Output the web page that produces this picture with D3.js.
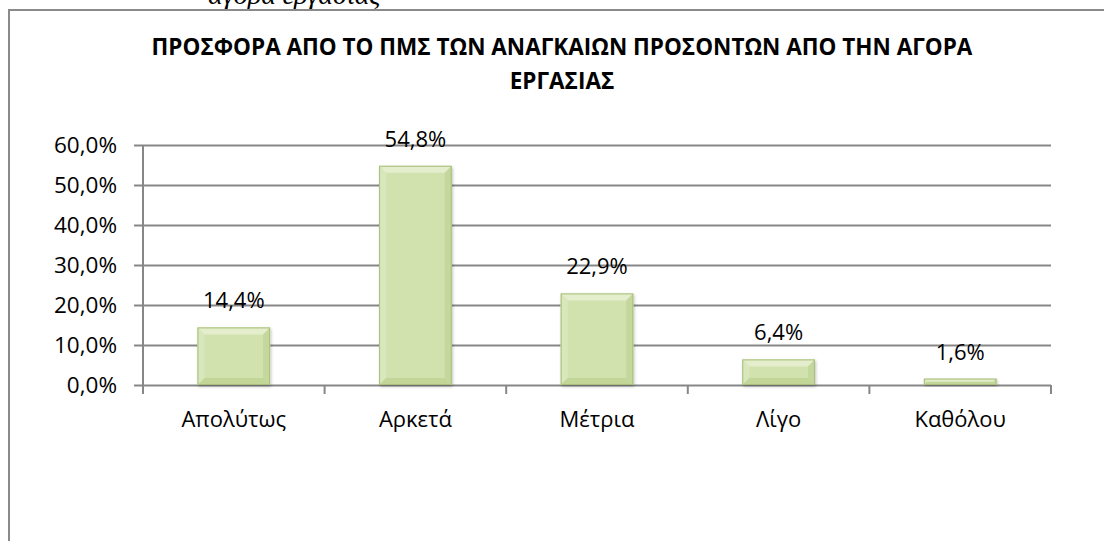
<!DOCTYPE html>
<html>
<head>
<meta charset="utf-8">
<script src="https://cdn.jsdelivr.net/npm/d3@7"></script>
<style>
  body { margin: 0; background: #fff; }
  svg { display: block; }
</style>
</head>
<body>
<div id="chart"></div>
<script>
// chart data
var categories = ['Απολύτως', 'Αρκετά', 'Μέτρια', 'Λίγο', 'Καθόλου'];
var values = [0.144, 0.548, 0.229, 0.064, 0.016];
var yTicks = [0, 0.1, 0.2, 0.3, 0.4, 0.5, 0.6];
var titleLines = ['ΠΡΟΣΦΟΡΑ ΑΠΟ ΤΟ ΠΜΣ ΤΩΝ ΑΝΑΓΚΑΙΩΝ ΠΡΟΣΟΝΤΩΝ ΑΠΟ ΤΗΝ ΑΓΟΡΑ', 'ΕΡΓΑΣΙΑΣ'];
var pageText = 'αγορά εργασίας';

var svgWidth = 1104;
var svgHeight = 541;

// plot area
var plot = { left: 143, right: 1051, top: 145, bottom: 385 };

var font = '"Open Sans", "Noto Sans", sans-serif';
var gridColor = '#878787';

var svg = d3.select('#chart')
  .append('svg')
  .attr('width', svgWidth)
  .attr('height', svgHeight);

svg.append('rect')
  .attr('width', svgWidth)
  .attr('height', svgHeight)
  .attr('fill', '#fff');

// text of the page cut off above the chart
svg.append('text')
  .attr('x', 208)
  .attr('y', 4)
  .attr('font-family', '"Liberation Serif", serif')
  .attr('font-style', 'italic')
  .attr('font-size', 28)
  .attr('fill', '#000')
  .text(pageText);

// chart frame
svg.append('rect')
  .attr('x', 9)
  .attr('y', 10)
  .attr('width', 1110)
  .attr('height', 545)
  .attr('fill', '#fff')
  .attr('stroke', '#8a8a8a')
  .attr('stroke-width', 2);

// title
svg.append('g')
  .selectAll('text')
  .data(titleLines)
  .enter()
  .append('text')
  .attr('x', 562)
  .attr('y', (d, i) => 55 + i * 34)
  .attr('text-anchor', 'middle')
  .attr('font-family', font)
  .attr('font-weight', 'bold')
  .attr('font-size', 22.5)
  .attr('fill', '#000')
  .text(d => d);

//scales
var x = d3.scaleBand()
  .domain(categories)
  .range([plot.left, plot.right])
  .paddingInner(0.6)
  .paddingOuter(0.3);

var y = d3.scaleLinear()
  .domain([0, 0.6])
  .range([plot.bottom, plot.top]);

var pct = v => d3.format('.1f')(v * 100).replace('.', ',') + '%';

// gridlines + y axis
var leftAxis = d3.axisLeft(y)
  .tickValues(yTicks)
  .tickSize(9)
  .tickPadding(17)
  .tickFormat(pct);

var yAxis = svg.append('g')
  .attr('transform', `translate(${plot.left}, 0)`)
  .call(leftAxis);

yAxis.select('.domain')
  .attr('stroke', gridColor)
  .attr('stroke-width', 2)
  .attr('d', `M0,${plot.top}V${plot.bottom}`);

yAxis.selectAll('.tick line')
  .attr('stroke', gridColor)
  .attr('stroke-width', 2);

yAxis.selectAll('.tick')
  .append('line')
  .attr('x1', 0)
  .attr('x2', plot.right - plot.left)
  .attr('stroke', gridColor)
  .attr('stroke-width', 2);

yAxis.selectAll('.tick text')
  .attr('font-family', font)
  .attr('font-size', 22.5)
  .attr('fill', '#000');

// x axis with ticks between categories
var xAxis = svg.append('g')
  .attr('transform', `translate(0, ${plot.bottom})`);

xAxis.selectAll('line.sep')
  .data(d3.range(categories.length + 1))
  .enter()
  .append('line')
  .attr('x1', i => plot.left + i * x.step())
  .attr('x2', i => plot.left + i * x.step())
  .attr('y1', 0)
  .attr('y2', 9)
  .attr('stroke', gridColor)
  .attr('stroke-width', 2);

xAxis.selectAll('text')
  .data(categories)
  .enter()
  .append('text')
  .attr('x', d => x(d) + x.bandwidth() / 2)
  .attr('y', 42)
  .attr('text-anchor', 'middle')
  .attr('font-family', font)
  .attr('font-size', 22)
  .attr('fill', '#000')
  .text(d => d);

// bars with a bevel look
var defs = svg.append('defs');
var shadow = defs.append('filter')
  .attr('id', 'shadow')
  .attr('x', '-20%').attr('y', '-20%')
  .attr('width', '140%').attr('height', '140%');
shadow.append('feDropShadow')
  .attr('dx', 1).attr('dy', 1.5)
  .attr('stdDeviation', 1.5)
  .attr('flood-color', '#000')
  .attr('flood-opacity', 0.25);

var data = categories.map((c, i) => ({ cat: c, value: values[i] }));

var bars = svg.append('g')
  .selectAll('g.bar')
  .data(data)
  .enter()
  .append('g')
  .classed('bar', true);

bars.each(function (d) {
  var g = d3.select(this);
  var x0 = x(d.cat);
  var x1 = x0 + x.bandwidth();
  var y0 = y(d.value);
  var y1 = y(0);
  var b = Math.min(7, (y1 - y0) / 2);

  g.append('rect')
    .attr('x', x0)
    .attr('y', y0)
    .attr('width', x1 - x0)
    .attr('height', y1 - y0)
    .attr('fill', '#d2e2af')
    .attr('filter', 'url(#shadow)');

  // top, left, right, bottom bevel faces
  var faces = [
    { pts: [[x0, y0], [x1, y0], [x1 - b, y0 + b], [x0 + b, y0 + b]], fill: '#e4eecc' },
    { pts: [[x0, y0], [x0 + b, y0 + b], [x0 + b, y1 - b], [x0, y1]], fill: '#d9e7bc' },
    { pts: [[x1, y0], [x1, y1], [x1 - b, y1 - b], [x1 - b, y0 + b]], fill: '#c4d79c' },
    { pts: [[x0, y1], [x0 + b, y1 - b], [x1 - b, y1 - b], [x1, y1]], fill: '#c2d698' }
  ];
  g.selectAll('polygon')
    .data(faces)
    .enter()
    .append('polygon')
    .attr('points', f => f.pts.map(p => p.join(',')).join(' '))
    .attr('fill', f => f.fill);

  g.append('rect')
    .attr('x', x0 + 0.5)
    .attr('y', y0 + 0.5)
    .attr('width', x1 - x0 - 1)
    .attr('height', y1 - y0 - 1)
    .attr('fill', 'none')
    .attr('stroke', '#aabf7c')
    .attr('stroke-width', 1);
});

// value labels
svg.append('g')
  .selectAll('text')
  .data(data)
  .enter()
  .append('text')
  .attr('x', d => x(d.cat) + x.bandwidth() / 2)
  .attr('y', d => y(d.value) - 19)
  .attr('text-anchor', 'middle')
  .attr('font-family', font)
  .attr('font-size', 22)
  .attr('fill', '#000')
  .text(d => pct(d.value));
</script>
</body>
</html>
